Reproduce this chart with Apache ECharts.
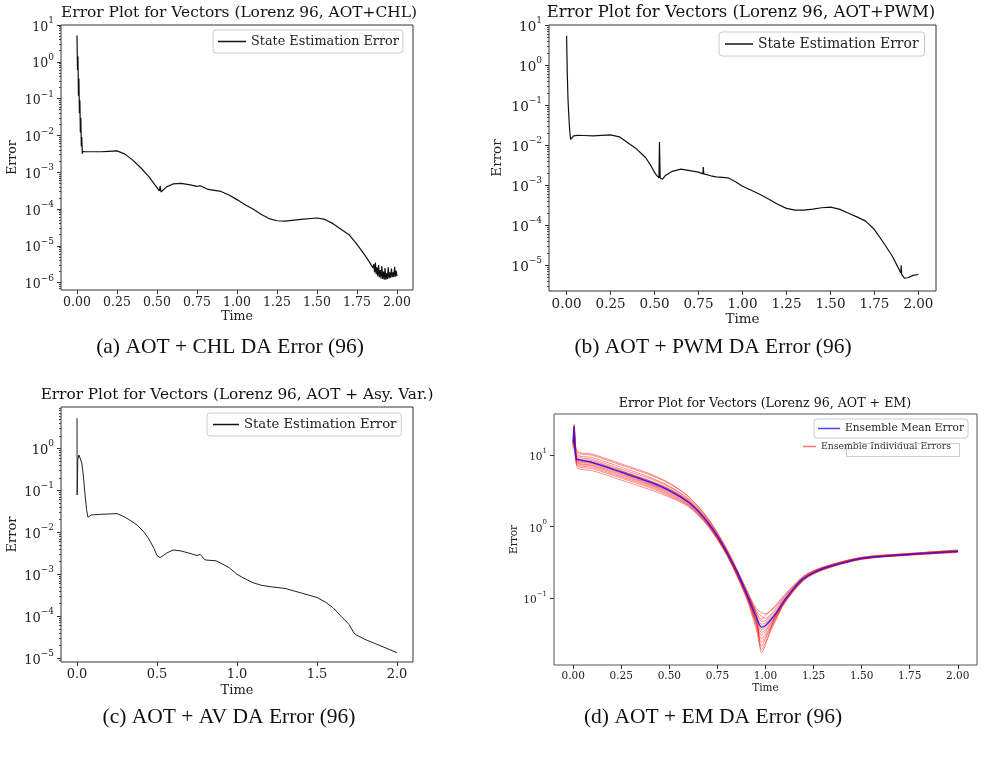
<!DOCTYPE html>
<html>
<head>
<meta charset="utf-8">
<script src="https://cdn.jsdelivr.net/npm/echarts@6/dist/echarts.min.js"></script>
<style>
  html, body { margin: 0; padding: 0; background: #fff; }
  #chart { width: 984px; height: 759px; }
</style>
</head>
<body>
<div id="chart"></div>
<script>
// (a) AOT + CHL
const aTime = [0, 0.003, 0.006, 0.009, 0.012, 0.015, 0.018, 0.021, 0.024, 0.027, 0.03, 0.033, 0.036,
  0.05, 0.1, 0.15, 0.2, 0.25, 0.3, 0.35, 0.4, 0.45, 0.5, 0.515, 0.52, 0.525, 0.535, 0.56, 0.6, 0.65,
  0.7, 0.75, 0.77, 0.775, 0.82, 0.9, 0.95, 1.0, 1.05, 1.1, 1.15, 1.2, 1.25, 1.3, 1.4, 1.5, 1.55,
  1.6, 1.65, 1.7, 1.75, 1.8, 1.83, 1.85, 1.855, 1.86, 1.865, 1.87, 1.875, 1.88, 1.885, 1.89, 1.895,
  1.9, 1.905, 1.91, 1.915, 1.92, 1.925, 1.93, 1.935, 1.94, 1.945, 1.95, 1.955, 1.96, 1.965, 1.97,
  1.975, 1.98, 1.985, 1.99, 1.995, 2.0];
const aError = [5.2, 0.6, 1.4, 0.12, 0.35, 0.04, 0.09, 0.012, 0.03, 0.005, 0.009, 0.0032, 0.0037,
  0.0036, 0.0036, 0.0036, 0.0037, 0.0038, 0.0031, 0.0021, 0.0013, 0.00075, 0.00038, 0.00031, 0.00042,
  0.00029, 0.0003, 0.0004, 0.00048, 0.0005, 0.00046, 0.00041, 0.00043, 0.0004, 0.00034, 0.0003,
  0.00024, 0.00018, 0.00013, 0.0001, 7.2e-5, 5.5e-5, 4.8e-5, 4.7e-5, 5.2e-5, 5.7e-5, 5.2e-5, 4.0e-5,
  2.8e-5, 2.0e-5, 1.1e-5, 5.5e-6, 3.5e-6, 2.5e-6, 3.2e-6, 1.9e-6, 3.5e-6, 1.7e-6, 2.6e-6, 1.5e-6,
  3.0e-6, 1.4e-6, 2.2e-6, 1.3e-6, 2.8e-6, 1.25e-6, 2.0e-6, 1.2e-6, 2.5e-6, 1.2e-6, 1.8e-6, 1.25e-6,
  2.6e-6, 1.3e-6, 1.9e-6, 1.35e-6, 2.4e-6, 1.4e-6, 1.9e-6, 1.4e-6, 2.7e-6, 1.45e-6, 2.1e-6, 1.5e-6];

// (b) AOT + PWM
const bTime = [0, 0.004, 0.008, 0.013, 0.018, 0.023, 0.03, 0.04, 0.06, 0.1, 0.15, 0.2, 0.25, 0.3,
  0.35, 0.4, 0.45, 0.48, 0.505, 0.525, 0.528, 0.532, 0.545, 0.56, 0.6, 0.65, 0.7, 0.75, 0.775, 0.777,
  0.78, 0.82, 0.85, 0.92, 0.96, 1.0, 1.05, 1.1, 1.15, 1.2, 1.25, 1.3, 1.35, 1.4, 1.45, 1.5, 1.55,
  1.6, 1.65, 1.7, 1.75, 1.8, 1.85, 1.88, 1.9, 1.902, 1.905, 1.92, 1.94, 1.97, 2.0];
const bError = [5.4, 0.6, 0.14, 0.05, 0.022, 0.0138, 0.015, 0.017, 0.0175, 0.0173, 0.017, 0.0175,
  0.018, 0.016, 0.0112, 0.0078, 0.0048, 0.003, 0.0019, 0.0015, 0.0118, 0.0015, 0.0014, 0.0017, 0.0022,
  0.0025, 0.0023, 0.0021, 0.0019, 0.0028, 0.0019, 0.0017, 0.0016, 0.0015, 0.0012, 0.00093, 0.00074,
  0.00058, 0.00044, 0.00033, 0.00026, 0.000235, 0.000235, 0.00025, 0.00027, 0.00028, 0.00025, 0.0002,
  0.00016, 0.000125, 7.7e-5, 3.7e-5, 1.7e-5, 9.5e-6, 6.3e-6, 9.8e-6, 5.8e-6, 4.7e-6, 4.8e-6, 5.5e-6, 5.8e-6];

// (c) AOT + Asy. Var.
const cTime = [0, 0.001, 0.005, 0.012, 0.02, 0.03, 0.04, 0.05, 0.06, 0.068, 0.075, 0.09, 0.15, 0.2,
  0.25, 0.3, 0.35, 0.38, 0.42, 0.45, 0.48, 0.5, 0.52, 0.56, 0.6, 0.65, 0.7, 0.75, 0.77, 0.8, 0.87,
  0.95, 1.0, 1.05, 1.1, 1.15, 1.2, 1.3, 1.4, 1.5, 1.55, 1.6, 1.65, 1.7, 1.73, 1.75, 1.8, 1.9, 2.0];
const cError = [5.3, 0.078, 0.55, 0.7, 0.65, 0.45, 0.22, 0.08, 0.035, 0.023, 0.024, 0.026, 0.027,
  0.0275, 0.028, 0.023, 0.0175, 0.0145, 0.01, 0.0069, 0.0042, 0.0028, 0.0025, 0.0032, 0.0038, 0.0036,
  0.0032, 0.0028, 0.003, 0.0022, 0.0021, 0.00145, 0.001, 0.00078, 0.00063, 0.00055, 0.00051, 0.00046,
  0.00036, 0.00028, 0.00022, 0.00016, 0.0001, 6.4e-5, 4.0e-5, 3.5e-5, 2.8e-5, 1.95e-5, 1.35e-5];

// (d) AOT + EM
const dTime = [0, 0.003, 0.006, 0.015, 0.02, 0.1, 0.25, 0.4, 0.5, 0.6, 0.65, 0.7, 0.75, 0.8, 0.85,
  0.9, 0.95, 0.98, 1.0, 1.05, 1.1, 1.15, 1.2, 1.3, 1.4, 1.5, 1.75, 2.0];
const dMeanError = [15, 25, 16, 9.0, 8.8, 7.9, 5.8, 4.2, 3.2, 2.2, 1.65, 1.15, 0.74, 0.43, 0.24,
  0.118, 0.056, 0.039, 0.041, 0.059, 0.094, 0.14, 0.19, 0.26, 0.31, 0.36, 0.41, 0.45];
const ensTime = [0, 0.005, 0.02, 0.1, 0.25, 0.4, 0.5, 0.6, 0.7, 0.8, 0.9, 0.95, 0.98, 1.0, 1.05,
  1.1, 1.2, 1.3, 1.5, 1.75, 2.0];
const ensMembers = [
  [18, 26, 11.0, 10.0, 7.3, 5.3, 4.0, 2.6, 1.3, 0.47, 0.13, 0.068, 0.055, 0.052, 0.07, 0.105, 0.2, 0.27, 0.37, 0.42, 0.47],
  [14, 22, 9.8, 8.8, 6.4, 4.7, 3.6, 2.4, 1.22, 0.45, 0.125, 0.062, 0.047, 0.048, 0.066, 0.1, 0.195, 0.265, 0.365, 0.415, 0.46],
  [16, 27, 9.3, 8.4, 6.1, 4.4, 3.4, 2.3, 1.18, 0.44, 0.12, 0.058, 0.043, 0.045, 0.062, 0.097, 0.19, 0.26, 0.36, 0.41, 0.455],
  [13, 20, 8.4, 7.6, 5.6, 4.0, 3.1, 2.15, 1.12, 0.42, 0.115, 0.052, 0.036, 0.039, 0.057, 0.092, 0.188, 0.258, 0.358, 0.408, 0.45],
  [15, 23, 7.9, 7.1, 5.2, 3.8, 2.9, 2.05, 1.08, 0.41, 0.11, 0.047, 0.03, 0.034, 0.054, 0.09, 0.185, 0.255, 0.355, 0.405, 0.445],
  [12, 19, 7.2, 6.5, 4.8, 3.5, 2.7, 1.95, 1.04, 0.4, 0.105, 0.042, 0.024, 0.029, 0.05, 0.087, 0.18, 0.25, 0.35, 0.4, 0.44],
  [17, 24, 10.3, 9.3, 6.8, 4.9, 3.7, 2.45, 1.25, 0.46, 0.128, 0.065, 0.05, 0.058, 0.075, 0.108, 0.2, 0.268, 0.37, 0.42, 0.465],
  [14, 21, 6.8, 6.1, 4.5, 3.3, 2.6, 1.9, 1.02, 0.39, 0.1, 0.038, 0.019, 0.024, 0.046, 0.085, 0.178, 0.248, 0.348, 0.398, 0.435],
  [16, 25, 8.9, 8.0, 5.9, 4.3, 3.3, 2.25, 1.16, 0.435, 0.118, 0.055, 0.04, 0.043, 0.06, 0.095, 0.19, 0.26, 0.36, 0.41, 0.45],
  [13, 22, 8.1, 7.3, 5.4, 3.9, 3.0, 2.1, 1.1, 0.415, 0.112, 0.05, 0.033, 0.036, 0.056, 0.091, 0.186, 0.256, 0.357, 0.407, 0.448],
  [15, 24, 11.5, 10.4, 7.6, 5.5, 4.1, 2.65, 1.32, 0.48, 0.135, 0.072, 0.062, 0.06, 0.078, 0.112, 0.205, 0.272, 0.372, 0.422, 0.47],
  [14, 20, 7.5, 6.8, 5.0, 3.65, 2.8, 2.0, 1.06, 0.405, 0.108, 0.045, 0.027, 0.031, 0.052, 0.088, 0.182, 0.252, 0.352, 0.402, 0.442],
  [15, 23, 9.0, 8.1, 6.0, 4.35, 3.35, 2.28, 1.17, 0.44, 0.119, 0.06, 0.017, 0.022, 0.055, 0.093, 0.189, 0.259, 0.359, 0.409, 0.451],
  [16, 26, 8.6, 7.8, 5.7, 4.1, 3.15, 2.18, 1.13, 0.425, 0.116, 0.049, 0.021, 0.027, 0.049, 0.089, 0.187, 0.257, 0.356, 0.406, 0.452]
];

const xTicks2 = [0, 0.25, 0.5, 0.75, 1.0, 1.25, 1.5, 1.75, 2.0];
const xTicks1 = [0, 0.5, 1.0, 1.5, 2.0];

const SERIF = "'DejaVu Serif', serif";
const CAP = "'Liberation Serif', serif";
const chart = echarts.init(document.getElementById('chart'));

function pairs(t, v) { return t.map((x, i) => [x, v[i]]); }

function powers(min, max) {
  const out = [];
  for (let k = Math.ceil(Math.log10(min) - 1e-9); k <= Math.floor(Math.log10(max) + 1e-9); k++) out.push(Math.pow(10, k));
  return out;
}
function minors(min, max) {
  const out = [];
  for (let k = Math.floor(Math.log10(min)); k <= Math.ceil(Math.log10(max)); k++) {
    for (let m = 2; m <= 9; m++) {
      const v = m * Math.pow(10, k);
      if (v > min && v < max) out.push(v);
    }
  }
  return out;
}

function xAxis(grid, ticks, digits, fs, gap) {
  return {
    type: 'value', gridIndex: grid, min: -0.1, max: 2.1,
    name: 'Time', nameLocation: 'middle', nameGap: gap,
    nameTextStyle: { fontFamily: SERIF, fontSize: fs, color: '#222' },
    axisLine: { show: false, onZero: false },
    axisTick: { show: true, length: 4, customValues: ticks, lineStyle: { color: '#333' } },
    axisLabel: { customValues: ticks, margin: 6, fontFamily: SERIF, fontSize: fs, color: '#222',
      formatter: v => v.toFixed(digits) },
    splitLine: { show: false }
  };
}

function yAxis(grid, min, max, fs, gap) {
  const sup = Math.round(fs * 0.7);
  return {
    type: 'log', gridIndex: grid, min: min, max: max, position: 'left',
    name: 'Error', nameLocation: 'middle', nameGap: gap, nameRotate: 90,
    nameTextStyle: { fontFamily: SERIF, fontSize: fs, color: '#222' },
    axisLine: { show: false, onZero: false },
    axisTick: { show: true, length: 4, customValues: powers(min, max), lineStyle: { color: '#333' } },
    axisLabel: {
      customValues: powers(min, max), margin: 7,
      formatter: v => '{b|10}{s|' + String(Math.round(Math.log10(v))).replace('-', '\u2212') + '}',
      rich: {
        b: { fontFamily: SERIF, fontSize: fs, color: '#222', lineHeight: fs + 5, verticalAlign: 'bottom' },
        s: { fontFamily: SERIF, fontSize: sup, color: '#222', lineHeight: sup, verticalAlign: 'top' }
      }
    },
    splitLine: { show: false }
  };
}

function yMinor(grid, min, max) {
  return {
    type: 'log', gridIndex: grid, min: min, max: max, position: 'left',
    axisLine: { show: false, onZero: false },
    axisTick: { show: true, length: 2, customValues: minors(min, max), lineStyle: { color: '#444' } },
    axisLabel: { show: false },
    splitLine: { show: false }
  };
}

const gridBox = { show: true, borderColor: '#333', borderWidth: 1, backgroundColor: 'transparent' };

const grids = [
  Object.assign({ left: 61, top: 25, width: 352, height: 265 }, gridBox),
  Object.assign({ left: 549, top: 25, width: 387, height: 266 }, gridBox),
  Object.assign({ left: 61, top: 407, width: 352, height: 255 }, gridBox),
  Object.assign({ left: 554, top: 414, width: 423, height: 251 }, gridBox, { borderColor: '#555' })
];

const legendBase = {
  orient: 'vertical', selectedMode: false, borderColor: '#ccc', borderWidth: 1, borderRadius: 3,
  backgroundColor: 'rgba(255,255,255,0.8)', icon: 'rect', itemHeight: 1.5
};

const series = [
  { name: 'State Estimation Error', type: 'line', xAxisIndex: 0, yAxisIndex: 0, symbol: 'none',
    data: pairs(aTime, aError), lineStyle: { color: '#111', width: 1.2 }, itemStyle: { color: '#111' } },
  { name: 'State Estimation Error', type: 'line', xAxisIndex: 1, yAxisIndex: 2, symbol: 'none',
    data: pairs(bTime, bError), lineStyle: { color: '#111', width: 1.2 }, itemStyle: { color: '#111' } },
  { name: 'State Estimation Error', type: 'line', xAxisIndex: 2, yAxisIndex: 4, symbol: 'none',
    data: pairs(cTime, cError), lineStyle: { color: '#222', width: 1 }, itemStyle: { color: '#222' } }
];
ensMembers.forEach(m => {
  series.push({ name: 'Ensemble Individual Errors', type: 'line', xAxisIndex: 3, yAxisIndex: 6,
    symbol: 'none', smooth: 0.3, data: pairs(ensTime, m), z: 2,
    lineStyle: { color: '#ff0000', width: 0.9, opacity: 0.5 }, itemStyle: { color: 'rgba(255,0,0,0.55)' } });
});
series.push({ name: 'Ensemble Mean Error', type: 'line', xAxisIndex: 3, yAxisIndex: 6, symbol: 'none',
  smooth: 0.3, data: pairs(dTime, dMeanError), z: 3,
  lineStyle: { color: '#2020ff', width: 1.3 }, itemStyle: { color: '#4848ff' } });

function label(text, x, y, size, family) {
  return { type: 'text', x: x, y: y, z: 10,
    style: { text: text, fontFamily: family || SERIF, fontSize: size, fill: '#111',
      align: 'center', verticalAlign: 'middle', textAlign: 'center', textVerticalAlign: 'middle' } };
}

chart.setOption({
  animation: false,
  backgroundColor: '#fff',
  grid: grids,
  xAxis: [
    xAxis(0, xTicks2, 2, 12.5, 20),
    xAxis(1, xTicks2, 2, 13.5, 21),
    xAxis(2, xTicks1, 1, 13, 22),
    xAxis(3, xTicks2, 2, 10.5, 16)
  ],
  yAxis: [
    yAxis(0, 6.3e-7, 10, 12.5, 42), yMinor(0, 6.3e-7, 10),
    yAxis(1, 2.24e-6, 10, 13.5, 45), yMinor(1, 2.24e-6, 10),
    yAxis(2, 8.1e-6, 9.77, 13, 42), yMinor(2, 8.1e-6, 9.77),
    yAxis(3, 0.0115, 38, 10.5, 33)
  ],
  legend: [
    Object.assign({}, legendBase, { left: 213, top: 30, padding: [5, 4, 5, 5], itemWidth: 28,
      data: ['State Estimation Error'], textStyle: { fontFamily: SERIF, fontSize: 12.8, color: '#222' } }),
    Object.assign({}, legendBase, { left: 719, top: 32, padding: [5, 6, 5, 6], itemWidth: 28,
      data: ['State Estimation Error'], textStyle: { fontFamily: SERIF, fontSize: 13.9, color: '#222' } }),
    Object.assign({}, legendBase, { left: 207, top: 413, padding: [5, 5, 5, 6], itemWidth: 26,
      data: ['State Estimation Error'], textStyle: { fontFamily: SERIF, fontSize: 13.2, color: '#222' } }),
    Object.assign({}, legendBase, { left: 814, top: 419, padding: [4, 4, 4, 4], itemWidth: 22,
      data: ['Ensemble Mean Error'], textStyle: { fontFamily: SERIF, fontSize: 10.6, color: '#222' } }),
    Object.assign({}, legendBase, { left: 803, top: 442, padding: 0, itemWidth: 13, borderWidth: 0,
      backgroundColor: 'transparent',
      data: ['Ensemble Individual Errors'], textStyle: { fontFamily: SERIF, fontSize: 9.3, color: '#333' } })
  ],
  graphic: [
    label('Error Plot for Vectors (Lorenz 96, AOT+CHL)', 239, 13, 15.4),
    label('Error Plot for Vectors (Lorenz 96, AOT+PWM)', 741, 13, 16.5),
    label('Error Plot for Vectors (Lorenz 96, AOT + Asy. Var.)', 237, 395, 15.3),
    label('Error Plot for Vectors (Lorenz 96, AOT + EM)', 765, 404, 12.6),
    label('(a) AOT + CHL DA Error (96)', 230, 347, 21.5, CAP),
    label('(b) AOT + PWM DA Error (96)', 713, 347, 21.5, CAP),
    label('(c) AOT + AV DA Error (96)', 229, 717, 21.5, CAP),
    label('(d) AOT + EM DA Error (96)', 713, 717, 21.5, CAP),
    { type: 'rect', z: 5, shape: { x: 846.5, y: 443.5, width: 113, height: 13 },
      style: { fill: 'none', stroke: '#ccc', lineWidth: 1 } }
  ],
  series: series
});
</script>
</body>
</html>
